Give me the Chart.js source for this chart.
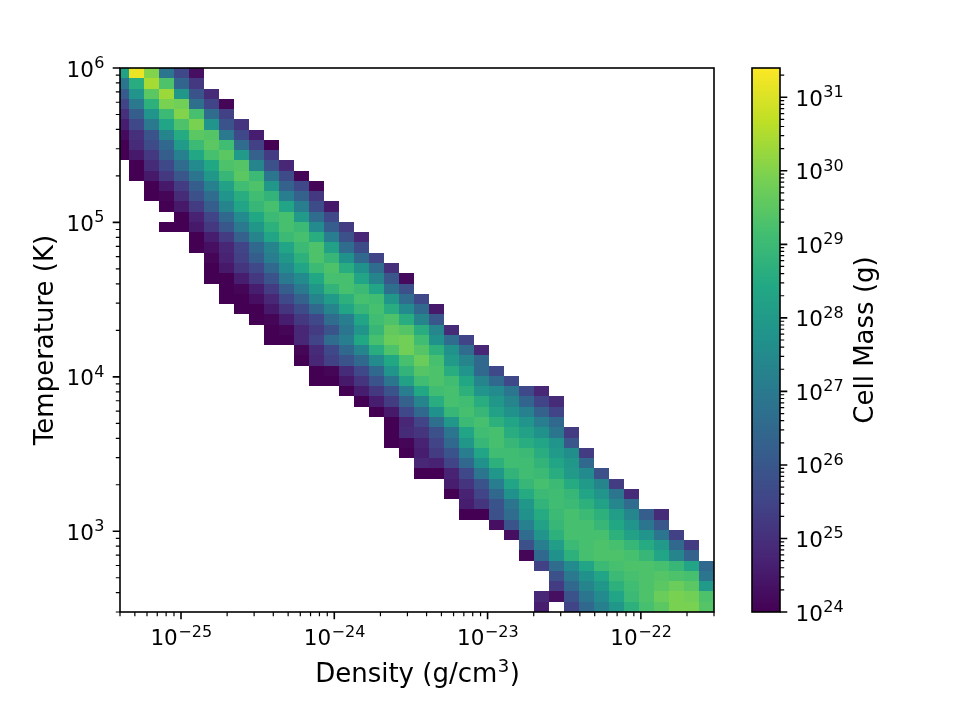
<!DOCTYPE html>
<html>
<head>
<meta charset="utf-8">
<title>Phase plot</title>
<script src="https://cdn.jsdelivr.net/npm/chart.js@4.4.0/dist/chart.umd.min.js"></script>
<style>
  html, body { margin: 0; padding: 0; background: #fff; }
  #wrap { width: 960px; height: 702px; }
</style>
</head>
<body>
<div id="wrap"><canvas id="phase" width="960" height="702"></canvas></div>
<script>
// axis limits
var densMin = 4e-26, densMax = 3e-22;
var tempMin = 300, tempMax = 1e6;
var massMin = 1e24, massMax = 2.5e31;

// histogram bins (log spaced); the first density bin starts left of the axis
var densBinLo = 3.67e-26, densBinHi = 3e-22, densBins = 40;
var tempBinLo = 300, tempBinHi = 1e6, tempBins = 53;

// tick exponents
var densTicks = [-25, -24, -23, -22];
var tempTicks = [3, 4, 5, 6];
var massTicks = [24, 25, 26, 27, 28, 29, 30, 31];

// first filled density bin of every temperature row, hottest row first
var rowStart = [
    0, 0, 0, 0, 0, 0, 0, 0, 0, 1, 1, 2, 2, 3, 4, 3, 5, 5, 6, 6,
    6, 7, 7, 8, 9, 10, 10, 12, 12, 13, 13, 15, 16, 17, 18, 18, 18, 19, 20, 20,
    22, 22, 23, 23, 25, 26, 27, 27, 28, 29, 29, 28, 28
];

// log10 of cell mass (g), one list per temperature row, starting at rowStart
var cellMass = [
    [28.2, 31.2, 30.0, 26.9, 25.6, 24.3],
    [26.9, 28.6, 30.4, 29.3, 26.4, 25.2],
    [26.1, 27.8, 29.5, 30.3, 27.9, 25.9, 24.9],
    [25.5, 27.0, 28.7, 29.9, 29.8, 26.7, 25.5, 24.1],
    [25.0, 26.2, 27.8, 29.0, 30.0, 29.2, 26.6, 25.4],
    [24.6, 25.6, 27.0, 28.3, 29.3, 29.9, 27.8, 25.9, 25.1],
    [24.2, 25.0, 25.9, 27.3, 28.5, 29.5, 29.4, 27.0, 25.6, 24.6],
    [24.0, 24.9, 25.7, 26.5, 28.0, 29.0, 29.5, 29.1, 26.6, 25.4, 24.0],
    [24.0, 24.5, 25.2, 26.2, 27.2, 28.4, 29.2, 29.5, 28.0, 26.3, 25.3],
    [24.0, 24.9, 25.6, 26.6, 27.5, 28.4, 29.3, 29.4, 27.3, 25.8, 24.8],
    [24.0, 24.5, 25.2, 26.0, 26.9, 27.9, 28.9, 29.5, 29.0, 26.9, 25.7, 24.1],
    [24.0, 24.5, 25.3, 26.2, 27.2, 28.2, 29.1, 29.3, 27.9, 26.3, 25.6, 24.1],
    [24.0, 24.1, 24.9, 25.8, 26.6, 27.8, 28.6, 29.1, 28.8, 27.1, 26.3, 25.2],
    [24.0, 24.5, 25.3, 26.2, 27.3, 28.3, 28.9, 29.2, 28.3, 27.1, 25.7, 24.5],
    [24.0, 24.7, 25.5, 26.5, 27.5, 28.4, 29.0, 29.2, 28.0, 26.6, 25.6],
    [24.0, 24.0, 24.5, 25.2, 26.0, 27.0, 27.9, 28.7, 29.2, 29.0, 27.5, 26.2, 25.3],
    [24.0, 24.6, 25.3, 26.3, 27.3, 28.3, 29.0, 29.2, 28.6, 27.1, 25.8, 24.8],
    [24.0, 24.3, 24.8, 25.5, 26.5, 27.3, 28.3, 29.0, 29.3, 28.2, 26.6, 25.7],
    [24.1, 24.7, 25.4, 26.2, 27.1, 27.9, 28.7, 29.3, 28.9, 27.7, 26.5, 25.5],
    [24.0, 24.5, 25.1, 25.6, 26.5, 27.5, 28.3, 29.0, 29.3, 28.6, 27.7, 26.6, 25.0],
    [24.0, 24.0, 24.6, 25.2, 25.9, 27.0, 27.5, 28.4, 29.2, 29.2, 28.3, 27.3, 26.0, 24.2],
    [24.0, 24.1, 24.6, 25.3, 26.2, 27.0, 27.9, 28.8, 29.2, 29.0, 28.3, 26.7, 25.8],
    [24.0, 24.0, 24.3, 24.8, 25.6, 26.3, 27.3, 28.0, 28.7, 29.2, 29.1, 27.9, 26.6, 25.6],
    [24.0, 24.0, 24.5, 25.1, 25.7, 26.5, 27.3, 28.3, 28.9, 29.2, 28.6, 27.5, 26.5, 24.5],
    [24.0, 24.1, 24.6, 25.2, 25.6, 26.6, 27.1, 28.3, 29.1, 29.3, 28.6, 27.3, 26.0],
    [24.0, 24.1, 24.8, 25.3, 25.9, 26.9, 27.8, 28.9, 29.6, 29.4, 28.6, 27.4, 24.9],
    [24.0, 24.0, 24.8, 25.5, 26.6, 27.1, 28.4, 29.2, 29.7, 29.8, 29.1, 27.7, 26.6, 25.5],
    [24.1, 24.9, 25.6, 26.5, 27.3, 28.6, 29.3, 29.8, 29.4, 28.7, 27.7, 26.6, 24.8],
    [24.0, 24.8, 25.4, 25.9, 26.5, 27.5, 28.4, 29.2, 29.7, 29.2, 28.0, 27.3, 26.5],
    [24.0, 24.1, 24.9, 25.6, 26.5, 27.8, 28.8, 29.4, 29.3, 28.6, 27.8, 26.5, 25.6],
    [24.0, 24.0, 24.5, 25.1, 25.9, 26.9, 28.2, 29.1, 29.3, 29.1, 28.4, 27.3, 26.5, 25.6],
    [24.0, 24.6, 25.2, 25.9, 27.1, 28.4, 29.1, 29.2, 28.7, 27.8, 27.5, 26.9, 25.6, 24.8],
    [24.0, 24.6, 25.3, 26.3, 27.3, 28.6, 29.2, 29.1, 28.6, 27.9, 27.3, 26.4, 25.5, 24.9],
    [24.0, 24.5, 25.6, 26.5, 27.7, 28.9, 29.2, 28.9, 28.2, 27.7, 27.2, 26.3, 25.5],
    [24.0, 24.8, 25.5, 26.7, 27.9, 29.0, 29.2, 28.7, 28.3, 27.8, 27.1, 26.5],
    [24.0, 24.9, 25.1, 25.8, 26.9, 28.3, 29.1, 29.2, 28.6, 28.2, 27.7, 26.9, 25.3],
    [24.0, 24.1, 24.7, 25.5, 26.5, 27.9, 28.9, 29.2, 28.9, 28.6, 28.3, 27.8, 26.0],
    [24.0, 24.6, 25.3, 25.9, 27.1, 28.3, 29.1, 29.1, 29.0, 28.6, 28.0, 27.6, 25.3],
    [24.8, 24.7, 25.5, 26.5, 27.7, 28.7, 29.1, 29.1, 28.8, 28.3, 27.9, 26.5],
    [24.0, 24.0, 24.7, 25.6, 26.9, 27.9, 28.8, 29.1, 29.0, 28.6, 28.0, 27.5, 25.8],
    [24.6, 25.1, 25.9, 27.1, 28.3, 28.9, 29.2, 29.0, 28.5, 28.0, 27.3, 25.3],
    [24.0, 24.7, 25.5, 26.5, 27.7, 28.5, 29.0, 29.1, 28.9, 28.3, 27.8, 26.9, 24.9],
    [24.6, 25.1, 25.9, 26.9, 27.9, 28.8, 29.1, 29.0, 28.7, 28.2, 27.4, 26.6],
    [24.0, 24.0, 25.8, 26.6, 27.7, 28.5, 29.0, 29.2, 29.0, 28.7, 28.1, 27.4, 26.2, 24.9],
    [24.3, 25.9, 27.2, 28.2, 28.9, 29.2, 29.2, 28.9, 28.4, 27.8, 26.9, 26.0],
    [24.3, 26.6, 27.8, 28.7, 29.2, 29.2, 29.2, 28.7, 28.2, 27.8, 26.9, 25.4],
    [25.8, 27.1, 28.1, 29.0, 29.2, 29.3, 29.2, 28.9, 28.5, 28.0, 26.5, 25.3],
    [24.1, 26.5, 27.7, 28.7, 29.2, 29.3, 29.3, 29.2, 28.9, 28.3, 27.3, 26.3],
    [25.4, 26.6, 27.5, 28.3, 29.0, 29.2, 29.3, 29.3, 29.2, 28.9, 28.3, 26.5],
    [25.8, 27.0, 27.7, 28.3, 29.0, 29.2, 29.3, 29.4, 29.3, 29.2, 26.9],
    [25.3, 26.5, 27.3, 27.9, 28.7, 29.1, 29.3, 29.5, 29.7, 29.5, 28.0],
    [24.8, 24.3, 25.9, 26.9, 27.5, 28.3, 29.0, 29.3, 29.7, 29.9, 29.8, 29.3],
    [24.6, null, 25.5, 26.5, 27.2, 27.9, 28.7, 29.2, 29.5, 29.9, 29.9, 29.4]
];

var viridisStops = ['#440154', '#482475', '#414487', '#355f8d', '#2a788e', '#21918c',
                    '#22a884', '#44bf70', '#7ad151', '#bddf26', '#fde725'];

var tickFont = '21.5px "DejaVu Sans"';
var supFont = '16px "DejaVu Sans"';
var titleFont = '26px "DejaVu Sans"';
var titleSupFont = '18px "DejaVu Sans"';
var cbLeft = 752, cbRight = 780;

function hexRgb(h) {
    return [parseInt(h.substr(1, 2), 16), parseInt(h.substr(3, 2), 16), parseInt(h.substr(5, 2), 16)];
}

function viridis(t) {
    t = Math.max(0, Math.min(1, t));
    var p = t * (viridisStops.length - 1);
    var i = Math.min(Math.floor(p), viridisStops.length - 2);
    var f = p - i;
    var a = hexRgb(viridisStops[i]), b = hexRgb(viridisStops[i + 1]);
    return 'rgb(' + Math.round(a[0] + (b[0] - a[0]) * f) + ',' +
        Math.round(a[1] + (b[1] - a[1]) * f) + ',' +
        Math.round(a[2] + (b[2] - a[2]) * f) + ')';
}

function massColor(logv) {
    var lo = Math.log10(massMin), hi = Math.log10(massMax);
    return viridis((logv - lo) / (hi - lo));
}

// 2..9 times each decade inside [lo, hi]
function minorValues(lo, hi) {
    var out = [];
    for (var e = Math.floor(Math.log10(lo)); e <= Math.ceil(Math.log10(hi)); e++) {
        for (var m = 2; m <= 9; m++) {
            var v = m * Math.pow(10, e);
            if (v >= lo && v <= hi) out.push(v);
        }
    }
    return out;
}

// "10" with a raised exponent, like matplotlib's log tick labels
function drawPower(ctx, exp, x, y, align) {
    var base = '10', sup = String(exp).replace('-', '\u2212');
    ctx.font = tickFont;
    var wb = ctx.measureText(base).width;
    ctx.font = supFont;
    var ws = ctx.measureText(sup).width;
    var x0 = x;
    if (align === 'center') x0 = x - (wb + ws) / 2;
    if (align === 'right') x0 = x - wb - ws;
    ctx.textAlign = 'left';
    ctx.textBaseline = 'alphabetic';
    ctx.font = tickFont;
    ctx.fillText(base, x0, y);
    ctx.font = supFont;
    ctx.fillText(sup, x0 + wb + 0.5, y - 8.5);
}

var phaseCells = {
    id: 'phaseCells',
    beforeDatasetsDraw: function (chart) {
        var ctx = chart.ctx, xs = chart.scales.x, ys = chart.scales.y, area = chart.chartArea;
        var lx0 = Math.log10(densBinLo), dx = (Math.log10(densBinHi) - lx0) / densBins;
        var ly1 = Math.log10(tempBinHi), dy = (ly1 - Math.log10(tempBinLo)) / tempBins;
        ctx.save();
        ctx.beginPath();
        ctx.rect(area.left, area.top, area.right - area.left, area.bottom - area.top);
        ctx.clip();
        for (var r = 0; r < cellMass.length; r++) {
            var top = ly1 - r * dy;
            var y0 = Math.round(ys.getPixelForValue(Math.pow(10, top)));
            var y1 = Math.round(ys.getPixelForValue(Math.pow(10, top - dy)));
            for (var k = 0; k < cellMass[r].length; k++) {
                var v = cellMass[r][k];
                if (v === null) continue;
                var lx = lx0 + (rowStart[r] + k) * dx;
                var x0 = Math.round(xs.getPixelForValue(Math.pow(10, lx)));
                var x1 = Math.round(xs.getPixelForValue(Math.pow(10, lx + dx)));
                ctx.fillStyle = massColor(v);
                ctx.fillRect(x0, y0, x1 - x0, y1 - y0);
            }
        }
        ctx.restore();
    }
};

var axesDecor = {
    id: 'axesDecor',
    afterDraw: function (chart) {
        var ctx = chart.ctx, xs = chart.scales.x, ys = chart.scales.y, cb = chart.scales.cb;
        var a = chart.chartArea;
        var i, p, v;
        ctx.save();
        ctx.fillStyle = '#000';
        ctx.strokeStyle = '#000';

        // colour bar
        for (p = Math.round(cb.top); p < Math.round(cb.bottom); p++) {
            v = cb.getValueForPixel(p + 0.5);
            ctx.fillStyle = massColor(Math.log10(v));
            ctx.fillRect(cbLeft, p, cbRight - cbLeft, 1);
        }
        ctx.fillStyle = '#000';

        ctx.lineWidth = 1.6;
        ctx.strokeRect(a.left, a.top, a.right - a.left, a.bottom - a.top);
        ctx.strokeRect(cbLeft, cb.top, cbRight - cbLeft, cb.bottom - cb.top);

        // minor ticks
        ctx.lineWidth = 1.2;
        ctx.beginPath();
        minorValues(densMin, densMax).forEach(function (d) {
            var x = xs.getPixelForValue(d);
            ctx.moveTo(x, a.bottom); ctx.lineTo(x, a.bottom + 4.2);
        });
        minorValues(tempMin, tempMax).forEach(function (t) {
            var y = ys.getPixelForValue(t);
            ctx.moveTo(a.left, y); ctx.lineTo(a.left - 4.2, y);
        });
        minorValues(massMin, massMax).forEach(function (m) {
            var y = cb.getPixelForValue(m);
            ctx.moveTo(cbRight, y); ctx.lineTo(cbRight + 4.2, y);
        });
        ctx.stroke();

        // major ticks and labels
        ctx.lineWidth = 1.6;
        ctx.beginPath();
        for (i = 0; i < densTicks.length; i++) {
            p = xs.getPixelForValue(Math.pow(10, densTicks[i]));
            ctx.moveTo(p, a.bottom); ctx.lineTo(p, a.bottom + 7.3);
        }
        for (i = 0; i < tempTicks.length; i++) {
            p = ys.getPixelForValue(Math.pow(10, tempTicks[i]));
            ctx.moveTo(a.left, p); ctx.lineTo(a.left - 7.3, p);
        }
        for (i = 0; i < massTicks.length; i++) {
            p = cb.getPixelForValue(Math.pow(10, massTicks[i]));
            ctx.moveTo(cbRight, p); ctx.lineTo(cbRight + 7.3, p);
        }
        ctx.stroke();

        for (i = 0; i < densTicks.length; i++) {
            p = xs.getPixelForValue(Math.pow(10, densTicks[i]));
            drawPower(ctx, densTicks[i], p, a.bottom + 33, 'center');
        }
        for (i = 0; i < tempTicks.length; i++) {
            p = ys.getPixelForValue(Math.pow(10, tempTicks[i]));
            drawPower(ctx, tempTicks[i], a.left - 16, p + 8.5, 'right');
        }
        for (i = 0; i < massTicks.length; i++) {
            p = cb.getPixelForValue(Math.pow(10, massTicks[i]));
            drawPower(ctx, massTicks[i], cbRight + 15.5, p + 8.5, 'left');
        }

        // axis titles
        ctx.textAlign = 'left';
        ctx.textBaseline = 'alphabetic';
        var main = 'Density (g/cm', sup = '3', tail = ')';
        ctx.font = titleFont;
        var wm = ctx.measureText(main).width, wt = ctx.measureText(tail).width;
        ctx.font = titleSupFont;
        var wsup = ctx.measureText(sup).width;
        var xl = (a.left + a.right) / 2 - (wm + wsup + wt) / 2;
        ctx.font = titleFont;
        ctx.fillText(main, xl, a.bottom + 70);
        ctx.fillText(tail, xl + wm + wsup + 1, a.bottom + 70);
        ctx.font = titleSupFont;
        ctx.fillText(sup, xl + wm + 0.5, a.bottom + 60);

        ctx.font = titleFont;
        ctx.textAlign = 'center';
        ctx.save();
        ctx.translate(53, (a.top + a.bottom) / 2);
        ctx.rotate(-Math.PI / 2);
        ctx.fillText('Temperature (K)', 0, 0);
        ctx.restore();

        ctx.save();
        ctx.translate(873, (cb.top + cb.bottom) / 2);
        ctx.rotate(-Math.PI / 2);
        ctx.fillText('Cell Mass (g)', 0, 0);
        ctx.restore();

        ctx.restore();
    }
};

new Chart(document.getElementById('phase'), {
    type: 'scatter',
    data: { datasets: [] },
    options: {
        responsive: false,
        animation: false,
        layout: { padding: { left: 120, right: 246, top: 68, bottom: 90 } },
        plugins: { legend: { display: false }, tooltip: { enabled: false } },
        scales: {
            x: { type: 'logarithmic', min: densMin, max: densMax, display: false },
            y: { type: 'logarithmic', min: tempMin, max: tempMax, display: false },
            cb: { type: 'logarithmic', axis: 'y', position: 'right', min: massMin, max: massMax, display: false }
        }
    },
    plugins: [phaseCells, axesDecor]
});
</script>
</body>
</html>
